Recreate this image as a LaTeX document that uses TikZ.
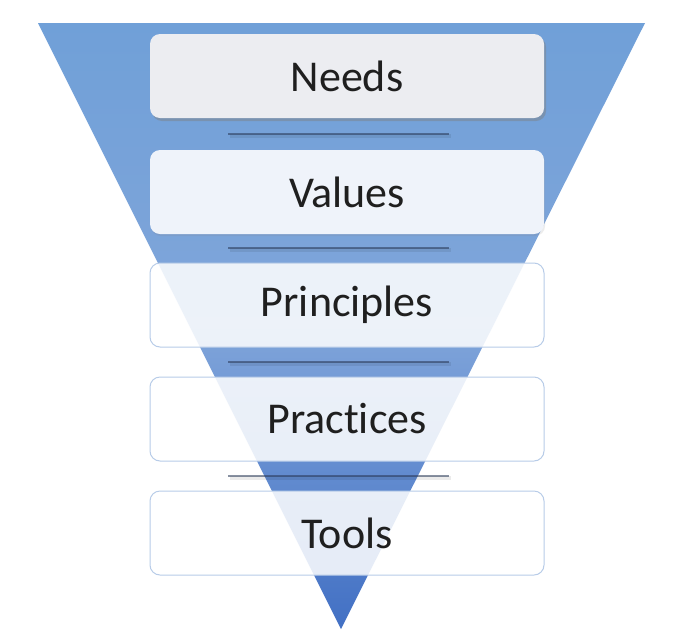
\documentclass[tikz,border=0pt]{standalone}
\usepackage{fontspec}
\setmainfont{Carlito}[Ligatures=NoCommon]
\usetikzlibrary{shadows}
\definecolor{triTop}{RGB}{112,160,216}
\definecolor{triMid}{RGB}{128,165,218}
\definecolor{triBot}{RGB}{66,112,196}
\definecolor{needsFill}{RGB}{236,237,241}
\definecolor{valuesFill}{RGB}{239,243,250}
\definecolor{boxLine}{RGB}{184,204,232}
\definecolor{sepLine}{RGB}{40,55,85}
\tikzset{
  solidbox/.style={rounded corners=10pt, minimum width=394pt, minimum height=84pt, inner sep=0pt, font=\fontsize{44}{52}\selectfont, text=black!88},
  glassbox/.style={solidbox, draw=boxLine, line width=1pt, fill=white, fill opacity=0.86, text opacity=1},
  sepbar/.style={draw=sepLine, draw opacity=0.55, line width=2.5pt},
  sepshadow/.style={draw=black, draw opacity=0.08, line width=4pt}
}
\begin{document}
\begin{tikzpicture}[x=1pt,y=-1pt]
\useasboundingbox (0,0) rectangle (674,635);
\fill[white] (0,0) rectangle (674,635);
% inverted triangle
\shade[top color=triTop, bottom color=triBot, middle color=triMid] (38,23) coordinate (tl) -- (645,23) coordinate (tr) -- (341,629) coordinate (ap) -- cycle;
% separators
\foreach \y/\n in {134/s1,248/s2,362/s3,476/s4}{
  \coordinate (\n a) at (228,\y);
  \coordinate (\n b) at (449,\y);
  \draw[sepshadow] ([shift={(1.5,1.5)}]\n a) -- ([shift={(1.5,1.5)}]\n b);
  \draw[sepbar] (\n a) -- (\n b);
}
% boxes
\node[solidbox, fill=needsFill, drop shadow={shadow xshift=2pt, shadow yshift=-3pt, opacity=0.45}] (needs) at (347,76) {Needs};
\node[solidbox, fill=valuesFill, drop shadow={shadow xshift=1pt, shadow yshift=-2pt, opacity=0.15}] (values) at (347,192) {Values};
\node[glassbox] (principles) at (347,305) {Principles};
\node[glassbox] (practices) at (347,419) {Practices};
\node[glassbox] (tools) at (347,533) {Tools};
\end{tikzpicture}
\end{document}
